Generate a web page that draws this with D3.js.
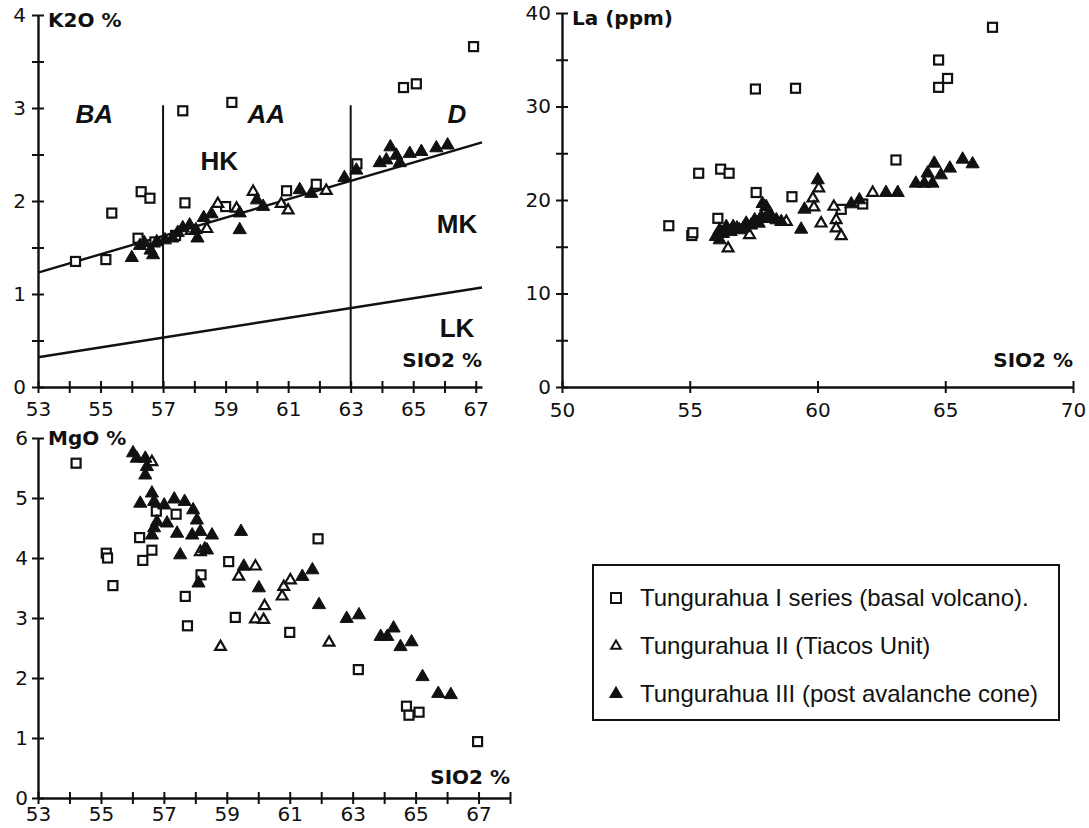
<!DOCTYPE html>
<html>
<head>
<meta charset="utf-8">
<script src="https://cdn.jsdelivr.net/npm/d3@7"></script>
<style>
  html, body { margin: 0; padding: 0; background: #fff; }
  svg { display: block; }
</style>
</head>
<body>
<svg id="chart" width="1089" height="828"></svg>
<script>
// ---------------- DATA ----------------
// Panel A: K2O % vs SiO2 %
const k2oSeriesI = [[54.2,1.35],[55.17,1.37],[55.36,1.87],[56.3,2.1],[56.58,2.03],[56.2,1.6],[56.74,1.56],[57.4,1.63],[57.7,1.98],[57.63,2.97],[59.2,3.06],[59.0,1.94],[60.95,2.11],[61.9,2.18],[63.2,2.4],[64.69,3.22],[65.1,3.26],[66.93,3.66]];
const k2oSeriesII = [[58.4,1.7],[58.75,1.97],[59.35,1.92],[59.88,2.1],[60.78,1.97],[61.0,1.9],[62.22,2.11],[57.9,1.68]];
const k2oSeriesIII = [[56.0,1.39],[56.26,1.52],[56.4,1.55],[56.6,1.47],[56.68,1.42],[56.8,1.56],[57.06,1.58],[57.3,1.6],[57.47,1.66],[57.63,1.71],[57.85,1.74],[58.05,1.69],[58.1,1.6],[58.3,1.82],[58.55,1.86],[59.45,1.69],[59.45,1.87],[60.0,2.01],[60.2,1.94],[61.37,2.12],[61.74,2.08],[62.8,2.25],[63.18,2.33],[63.93,2.41],[64.14,2.44],[64.27,2.58],[64.46,2.49],[64.57,2.41],[64.89,2.51],[65.26,2.53],[65.74,2.57],[66.1,2.6]];
const k2oLineHK = [[53,1.23],[67.2,2.63]];
const k2oLineLK = [[53,0.32],[67.2,1.07]];
const k2oDividers = [57, 63];
const k2oDividerTop = 3.03;
const k2oFields = [["BA",54.8,2.84,true],["AA",60.3,2.84,true],["D",66.4,2.84,true],["HK",58.8,2.33,false],["MK",66.4,1.66,false],["LK",66.4,0.54,false]];

// Panel B: La (ppm) vs SiO2 %
const laSeriesI = [[54.18,17.25],[55.08,16.2],[55.12,16.5],[55.35,22.86],[56.1,18.04],[56.21,23.3],[56.54,22.86],[57.6,20.8],[57.57,31.87],[59.14,31.95],[59.0,20.35],[60.93,19.0],[61.77,19.57],[63.07,24.28],[64.74,34.97],[65.09,33.0],[64.74,32.05],[66.85,38.47]];
const laSeriesII = [[56.5,14.83],[57.34,16.26],[58.78,17.68],[60.05,21.25],[59.82,20.18],[59.86,19.22],[60.14,17.5],[60.64,19.29],[60.73,17.86],[60.73,16.97],[60.93,16.15],[62.16,20.78]];
const laSeriesIII = [[56.02,16.08],[56.17,16.79],[56.43,17.15],[56.7,17.15],[56.95,16.79],[57.21,17.5],[57.54,17.86],[57.8,18.2],[57.99,19.28],[58.13,18.58],[58.39,17.86],[58.58,17.68],[56.17,15.72],[57.7,17.5],[56.3,16.4],[56.6,16.6],[56.85,17.0],[57.1,17.0],[57.4,17.3],[57.95,18.0],[58.2,18.0],[57.85,19.6],[60.01,22.14],[59.49,19.0],[59.36,16.86],[61.32,19.57],[61.64,20.0],[62.68,20.78],[63.14,20.78],[63.85,21.78],[64.18,21.78],[64.31,22.86],[64.57,23.92],[64.5,21.78],[64.83,22.67],[65.18,23.39],[65.68,24.35],[66.07,23.85]];

// Panel C: MgO % vs SiO2 %
const mgoSeriesI = [[54.21,5.58],[55.17,4.08],[55.21,4.0],[55.38,3.54],[56.23,4.34],[56.33,3.96],[56.62,4.13],[56.76,4.78],[57.39,4.73],[58.18,3.72],[57.68,3.36],[59.06,3.94],[57.75,2.87],[59.27,3.01],[61.9,4.32],[61.0,2.76],[63.18,2.14],[64.71,1.53],[64.79,1.38],[65.11,1.43],[66.97,0.94]];
const mgoSeriesII = [[58.8,2.52],[59.91,2.98],[60.17,2.97],[60.2,3.2],[62.25,2.59],[59.91,3.86],[60.76,3.36],[60.81,3.52],[61.02,3.63],[58.16,4.1],[59.38,3.69],[56.62,5.6]];
const mgoSeriesIII = [[56.02,5.75],[56.14,5.66],[56.41,5.66],[56.46,5.52],[56.41,5.38],[56.25,4.91],[56.62,5.08],[56.69,4.94],[57.01,4.88],[57.33,4.98],[57.66,4.94],[57.93,4.8],[58.05,4.63],[58.16,4.44],[57.9,4.38],[58.53,4.38],[57.1,4.58],[56.78,4.6],[56.62,4.38],[56.69,4.5],[57.42,4.41],[57.52,4.05],[58.37,4.13],[58.3,4.15],[59.45,4.44],[59.54,3.86],[58.1,3.58],[60.02,3.5],[61.4,3.69],[61.72,3.8],[61.93,3.22],[62.81,2.99],[63.2,3.05],[63.89,2.69],[64.1,2.69],[64.3,2.83],[64.52,2.52],[64.87,2.6],[65.22,2.02],[65.72,1.74],[66.12,1.72]];

const legendLabels = ["Tungurahua I series (basal volcano).","Tungurahua II (Tiacos Unit)","Tungurahua III (post avalanche cone)"];

// ---------------- DRAWING ----------------
const svg = d3.select("#chart");
const INK = "#111";
const SW = 2.4;
const TICKFONT = "'DejaVu Sans', Verdana, sans-serif";
const TITLEFONT = "'DejaVu Sans', Verdana, sans-serif";
const FIELDFONT = "'Liberation Sans', Arial, sans-serif";

function styleAxis(g, orient) {
  g.select(".domain").attr("stroke", INK).attr("stroke-width", SW);
  g.selectAll(".tick line").attr("stroke", INK).attr("stroke-width", 2);
  if (orient === "x") g.selectAll(".tick line").attr("y1", -6).attr("y2", 6);
  else g.selectAll(".tick line").attr("x1", -6).attr("x2", 6);
  g.selectAll(".tick text").attr("fill", INK).style("font-family", TICKFONT).style("font-size", "20px");
}

function panel(cfg) {
  const g = svg.append("g");
  const x = d3.scaleLinear().domain(cfg.xDomain).range(cfg.xRange);
  const y = d3.scaleLinear().domain(cfg.yDomain).range(cfg.yRange);

  const gx = g.append("g").attr("transform", `translate(0,${cfg.yRange[0]})`)
    .call(d3.axisBottom(x).tickValues(cfg.xTicks).tickSize(0).tickSizeOuter(0)
      .tickPadding(cfg.xPad).tickFormat(cfg.xFmt));
  styleAxis(gx, "x");
  const gy = g.append("g").attr("transform", `translate(${cfg.xRange[0]},0)`)
    .call(d3.axisLeft(y).tickValues(cfg.yTicks).tickSize(0).tickSizeOuter(0)
      .tickPadding(cfg.yPad).tickFormat(cfg.yFmt));
  styleAxis(gy, "y");

  g.append("text").attr("x", x(cfg.xDomain[0]) + 10).attr("y", y(cfg.yDomain[1]) + cfg.titleDy)
    .text(cfg.yTitle).attr("fill", INK)
    .style("font-family", TITLEFONT).style("font-weight", "bold").style("font-size", "20px");
  g.append("text").attr("x", cfg.xRange[1]).attr("y", cfg.yRange[0] - cfg.sioDy)
    .attr("text-anchor", "end").text("SIO2 %").attr("fill", INK)
    .style("font-family", TITLEFONT).style("font-weight", "bold").style("font-size", "20px");
  return {g, x, y};
}

function drawSeries(p, data, kind) {
  const gg = p.g.append("g");
  if (kind === "square") {
    gg.selectAll("rect").data(data).join("rect")
      .attr("x", d => p.x(d[0]) - 4.5).attr("y", d => p.y(d[1]) - 4.5)
      .attr("width", 9).attr("height", 9)
      .attr("fill", "#fff").attr("stroke", INK).attr("stroke-width", 2.2);
  } else if (kind === "open") {
    gg.selectAll("path").data(data).join("path")
      .attr("transform", d => `translate(${p.x(d[0])},${p.y(d[1])})`)
      .attr("d", d3.symbol(d3.symbolTriangle, 50)())
      .attr("fill", "#fff").attr("stroke", INK).attr("stroke-width", 2.2);
  } else {
    gg.selectAll("path").data(data).join("path")
      .attr("transform", d => `translate(${p.x(d[0])},${p.y(d[1])})`)
      .attr("d", d3.symbol(d3.symbolTriangle, 75)())
      .attr("fill", INK).attr("stroke", INK).attr("stroke-width", 1);
  }
}

const oddFmt = d => (Math.round(d) % 2 === 1 ? String(d) : "");

// Panel A
const pA = panel({
  xDomain: [53, 67.2], xRange: [38, 482], yDomain: [0, 4], yRange: [387, 15],
  xTicks: d3.range(53, 68, 1), yTicks: d3.range(0, 4.01, 0.5),
  xFmt: oddFmt, yFmt: d => (Number.isInteger(d) ? String(d) : ""),
  xPad: 15, yPad: 12, yTitle: "K2O %", titleDy: 12, sioDy: 20
});
const line = (p) => d3.line().x(d => p.x(d[0])).y(d => p.y(d[1]));
pA.g.append("path").datum(k2oLineHK).attr("d", line(pA)).attr("stroke", INK).attr("stroke-width", SW).attr("fill", "none");
pA.g.append("path").datum(k2oLineLK).attr("d", line(pA)).attr("stroke", INK).attr("stroke-width", SW).attr("fill", "none");
pA.g.selectAll("line.div").data(k2oDividers).join("line").attr("class", "div")
  .attr("x1", d => pA.x(d)).attr("x2", d => pA.x(d))
  .attr("y1", pA.y(0)).attr("y2", pA.y(k2oDividerTop))
  .attr("stroke", INK).attr("stroke-width", 2);
pA.g.selectAll("text.field").data(k2oFields).join("text").attr("class", "field")
  .attr("x", d => pA.x(d[1])).attr("y", d => pA.y(d[2]))
  .attr("text-anchor", "middle").text(d => d[0]).attr("fill", INK)
  .style("font-family", FIELDFONT).style("font-weight", "bold")
  .style("font-style", d => d[3] ? "italic" : "normal").style("font-size", "26px");
drawSeries(pA, k2oSeriesI, "square");
drawSeries(pA, k2oSeriesII, "open");
drawSeries(pA, k2oSeriesIII, "filled");

// Panel B
const pB = panel({
  xDomain: [50, 70], xRange: [562, 1073], yDomain: [0, 40], yRange: [387, 13],
  xTicks: [50, 55, 60, 65, 70], yTicks: d3.range(0, 41, 5),
  xFmt: d => String(d), yFmt: d => (d % 10 === 0 ? String(d) : ""),
  xPad: 16, yPad: 11, yTitle: "La (ppm)", titleDy: 12, sioDy: 20
});
drawSeries(pB, laSeriesI, "square");
drawSeries(pB, laSeriesII, "open");
drawSeries(pB, laSeriesIII, "filled");

// Panel C
const pC = panel({
  xDomain: [53, 68], xRange: [38, 510], yDomain: [0, 6], yRange: [798, 438],
  xTicks: d3.range(53, 69, 1), yTicks: d3.range(0, 7, 1),
  xFmt: oddFmt, yFmt: d => String(d),
  xPad: 9, yPad: 10, yTitle: "MgO %", titleDy: 7, sioDy: 14
});
drawSeries(pC, mgoSeriesI, "square");
drawSeries(pC, mgoSeriesII, "open");
drawSeries(pC, mgoSeriesIII, "filled");

// Legend
const leg = svg.append("g");
leg.append("rect").attr("x", 593).attr("y", 565).attr("width", 466).attr("height", 155)
  .attr("fill", "#fff").attr("stroke", INK).attr("stroke-width", 2);
const legKinds = ["square", "open", "filled"];
const legRows = d3.scaleBand().domain(d3.range(3)).range([574, 718]);
legendLabels.forEach((lab, i) => {
  const cy = legRows(i) + legRows.bandwidth() / 2;
  const sx = 616;
  if (legKinds[i] === "square") {
    leg.append("rect").attr("x", sx - 5).attr("y", cy - 5).attr("width", 10).attr("height", 10)
      .attr("fill", "#fff").attr("stroke", INK).attr("stroke-width", 2);
  } else {
    leg.append("path").attr("transform", `translate(${sx},${cy})`)
      .attr("d", d3.symbol(d3.symbolTriangle, legKinds[i] === "open" ? 40 : 50)())
      .attr("fill", legKinds[i] === "open" ? "#fff" : INK).attr("stroke", INK).attr("stroke-width", 2);
  }
  leg.append("text").attr("x", 640).attr("y", cy + 8).text(lab).attr("fill", INK)
    .style("font-family", FIELDFONT).style("font-size", "24px");
});
</script>
</body>
</html>
